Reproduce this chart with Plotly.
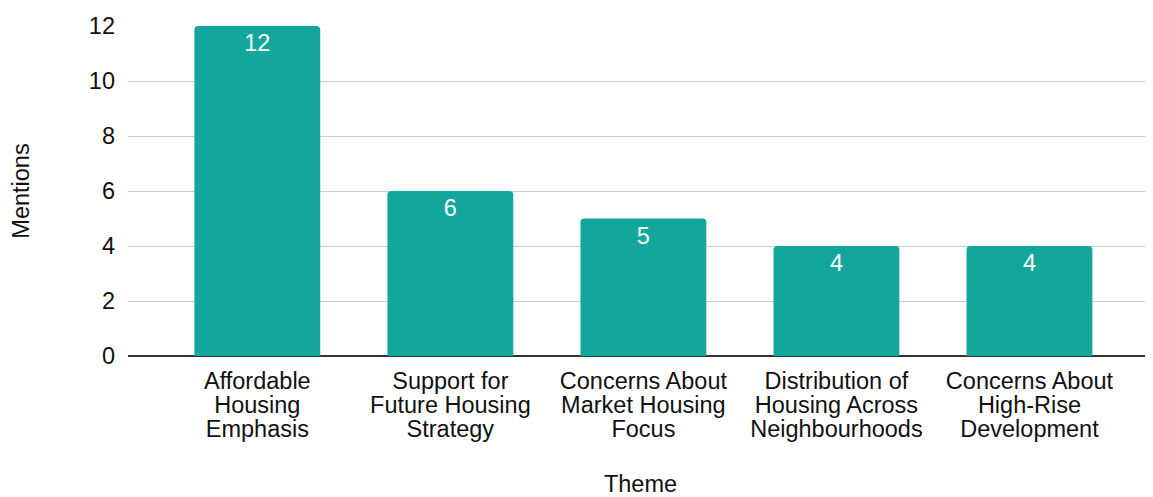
import plotly.graph_objects as go

# данные
theme_lines = [
    ["Affordable", "Housing", "Emphasis"],
    ["Support for", "Future Housing", "Strategy"],
    ["Concerns About", "Market Housing", "Focus"],
    ["Distribution of", "Housing Across", "Neighbourhoods"],
    ["Concerns About", "High-Rise", "Development"],
]
mentions = [12, 6, 5, 4, 4]

FONT = "Liberation Sans, Arial, sans-serif"
BAR_COLOR = "#12a69c"
TXT = 23.5

# плотный межстрочный интервал: базовый шрифт меньше, строки крупнее
themes = ["<br>".join(f'<span style="font-size:{TXT}px">{s}</span>' for s in lines)
          for lines in theme_lines]

fig = go.Figure()

fig.add_trace(go.Bar(
    x=themes,
    y=mentions,
    text=mentions,
    textposition="inside",
    insidetextanchor="end",
    textfont=dict(color="white", size=TXT, family=FONT),
    marker=dict(color=BAR_COLOR, cornerradius=4, line=dict(width=0)),
    width=0.652,
    hoverinfo="skip",
))

# страница имеет отступ 8px, поэтому поля уменьшены
fig.update_layout(
    width=1145,
    height=489,
    margin=dict(l=114, r=0, t=18, b=140),
    plot_bgcolor="white",
    paper_bgcolor="white",
    font=dict(family=FONT, size=TXT, color="#111"),
    showlegend=False,
    xaxis=dict(
        title=dict(text="Theme", standoff=39, font=dict(size=TXT)),
        range=[-0.67, 4.64],
        showgrid=False,
        showline=False,
        ticks="",
        ticklabelstandoff=13,
        tickfont=dict(size=18.5),
    ),
    yaxis=dict(
        title=dict(text="Mentions", standoff=64, font=dict(size=TXT)),
        range=[0, 12],
        dtick=2,
        showgrid=True,
        gridcolor="#cccccc",
        gridwidth=1,
        zeroline=True,
        zerolinecolor="#333333",
        zerolinewidth=2,
        ticks="",
        ticklabelstandoff=12,
        tickfont=dict(size=TXT),
    ),
)

fig.write_html("out.html")
